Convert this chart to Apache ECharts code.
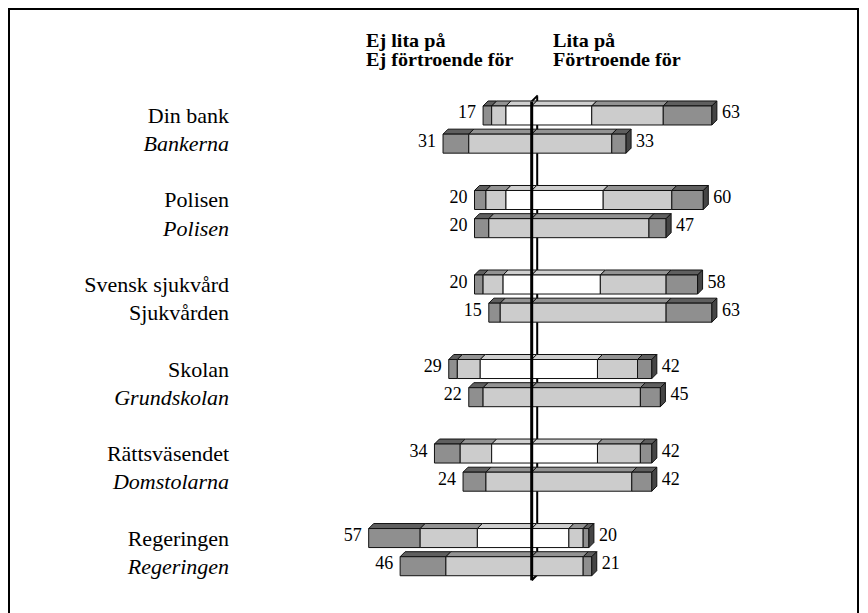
<!DOCTYPE html>
<html><head><meta charset="utf-8">
<script src="https://cdn.jsdelivr.net/npm/echarts@6/dist/echarts.min.js"></script>
<style>html,body{margin:0;padding:0;background:#fff}#c{width:868px;height:613px}</style>
</head><body><div id="c"></div>
<script>
// ---- data ----
const topLabels = ['Din bank', 'Polisen', 'Svensk sjukvård', 'Skolan', 'Rättsväsendet', 'Regeringen'];
const bottomLabels = ['Bankerna', 'Polisen', 'Sjukvården', 'Grundskolan', 'Domstolarna', 'Regeringen'];
const bottomItalic = [true, true, false, true, true, true];
// Upper bars ("Lita på"): negative side outer -> inner, positive side inner -> outer
const upNegDark  = [3, 4, 3, 3, 9, 18];
const upNegLight = [5, 7, 7, 8, 11, 20];
const upNegWhite = [9, 9, 10, 18, 14, 19];
const upPosWhite = [21, 25, 24, 23, 23, 13];
const upPosLight = [25, 24, 23, 14, 15, 5];
const upPosDark  = [17, 11, 11, 5, 4, 2];
// Lower bars ("Förtroende för")
const loNegDark  = [9, 5, 4, 5, 8, 16];
const loNegLight = [22, 15, 11, 17, 16, 30];
const loPosLight = [28, 41, 47, 38, 35, 18];
const loPosDark  = [5, 6, 16, 7, 7, 3];
const headerLeft = ['Ej lita på', 'Ej förtroende för'];
const headerRight = ['Lita på', 'Förtroende för'];

// ---- build category slots ----
const cats = [];
const catText = [];
topLabels.forEach((t, i) => {
  cats.push('u' + i); catText.push({ t: t, it: false });
  cats.push('l' + i); catText.push({ t: bottomLabels[i], it: bottomItalic[i] });
  if (i < topLabels.length - 1) { cats.push('g' + i); catText.push({ t: '', it: false }); }
});

const upperData = topLabels.map((_, i) => [i * 3, upNegDark[i], upNegLight[i], upNegWhite[i], upPosWhite[i], upPosLight[i], upPosDark[i]]);
const lowerData = topLabels.map((_, i) => [i * 3 + 1, loNegDark[i], loNegLight[i], loPosLight[i], loPosDark[i]]);

const FONT = "'Liberation Serif', serif";
const COL = {
  dark:  { front: '#8f8f8f', top: '#5f5f5f', side: '#454545' },
  light: { front: '#cccccc', top: '#939393', side: '#8a8a8a' },
  white: { front: '#ffffff', top: '#cfcfcf', side: '#aaaaaa' }
};
const D = 5;

function makeRender(negKinds, posKinds) {
  return function (params, api) {
    const cat = api.value(0);
    const nN = negKinds.length, nP = posKinds.length;
    const neg = [], pos = [];
    for (let k = 0; k < nN; k++) neg.push(api.value(1 + k));
    for (let k = 0; k < nP; k++) pos.push(api.value(1 + nN + k));
    const negSum = neg.reduce((a, b) => a + b, 0);
    const posSum = pos.reduce((a, b) => a + b, 0);
    const yc = api.coord([0, cat])[1];
    const h = api.size([0, 1])[1] * 0.675;
    const y0 = yc - h / 2, y1 = yc + h / 2;
    const segs = [];
    let x = -negSum;
    neg.forEach((v, k) => { segs.push([x, x + v, negKinds[k]]); x += v; });
    pos.forEach((v, k) => { segs.push([x, x + v, posKinds[k]]); x += v; });
    const children = [];
    segs.forEach((s, idx) => {
      const px0 = api.coord([s[0], cat])[0];
      const px1 = api.coord([s[1], cat])[0];
      const c = COL[s[2]];
      children.push({ type: 'polygon', shape: { points: [[px0, y0], [px1, y0], [px1 + D, y0 - D], [px0 + D, y0 - D]] },
        style: { fill: c.top, stroke: '#111', lineWidth: 1 } });
      children.push({ type: 'rect', shape: { x: px0, y: y0, width: px1 - px0, height: h },
        style: { fill: c.front, stroke: '#111', lineWidth: 1 } });
      if (idx === segs.length - 1) {
        children.push({ type: 'polygon', shape: { points: [[px1, y0], [px1 + D, y0 - D], [px1 + D, y1 - D], [px1, y1]] },
          style: { fill: c.side, stroke: '#111', lineWidth: 1 } });
      }
    });
    const pl = api.coord([-negSum, cat])[0];
    const pr = api.coord([posSum, cat])[0];
    children.push({ type: 'text', style: { text: String(negSum), x: pl - 7, y: yc - 3, align: 'right', verticalAlign: 'middle',
      fill: '#000', fontSize: 18, fontFamily: FONT } });
    children.push({ type: 'text', style: { text: String(posSum), x: pr + 10, y: yc - 3, align: 'left', verticalAlign: 'middle',
      fill: '#000', fontSize: 18, fontFamily: FONT } });
    return { type: 'group', children: children };
  };
}

function wallBack(params, api) {
  const n = cats.length;
  const slot = api.size([0, 1])[1];
  const x = api.coord([0, 0])[0];
  const yt = api.coord([0, 0])[1] - slot / 2;
  const yb = api.coord([0, n - 1])[1] + slot / 2;
  return { type: 'group', children: [
    { type: 'line', shape: { x1: x + D + 0.5, y1: yt - D, x2: x + D + 0.5, y2: yb - D }, style: { stroke: '#000', lineWidth: 2 } },
    { type: 'line', shape: { x1: x, y1: yt, x2: x + D + 1, y2: yt - D - 1 }, style: { stroke: '#000', lineWidth: 2 } },
    { type: 'line', shape: { x1: x, y1: yb, x2: x + D + 1, y2: yb - D - 1 }, style: { stroke: '#000', lineWidth: 2 } }
  ] };
}
function wallFront(params, api) {
  const n = cats.length;
  const slot = api.size([0, 1])[1];
  const x = api.coord([0, 0])[0];
  const yt = api.coord([0, 0])[1] - slot / 2;
  const yb = api.coord([0, n - 1])[1] + slot / 2;
  return { type: 'line', shape: { x1: x, y1: yt, x2: x, y2: yb }, style: { stroke: '#000', lineWidth: 3 } };
}

function header(txt, x, y) {
  return { type: 'text', x: x, y: y, scaleX: 1.12, originX: 0, originY: 0,
    style: { text: txt, fontFamily: FONT, fontWeight: 'bold', fontSize: 18, fill: '#000', verticalAlign: 'middle' } };
}

const chart = echarts.init(document.getElementById('c'), null, { renderer: 'svg' });
chart.setOption({
  animation: false,
  backgroundColor: '#fff',
  grid: { left: 360.1, width: 371.8, top: 101.4, height: 478.9 },
  xAxis: { type: 'value', min: -60, max: 70, show: false },
  yAxis: {
    type: 'category', data: cats, inverse: true,
    axisLine: { show: false }, axisTick: { show: false }, splitLine: { show: false },
    axisLabel: {
      margin: 131, interval: 0, align: 'right',
      formatter: function (v, i) {
        const o = catText[i];
        if (!o || !o.t) return '';
        return o.it ? '{i|' + o.t + '}' : '{n|' + o.t + '}';
      },
      rich: {
        n: { fontFamily: FONT, fontSize: 22, color: '#000' },
        i: { fontFamily: FONT, fontSize: 22, fontStyle: 'italic', color: '#000' }
      }
    }
  },
  graphic: [
    { type: 'rect', shape: { x: 9, y: 9, width: 849, height: 640 }, style: { fill: 'none', stroke: '#000', lineWidth: 2 }, silent: true },
    header(headerLeft[0], 366, 40.5),
    header(headerLeft[1], 366, 59.5),
    header(headerRight[0], 553, 40.5),
    header(headerRight[1], 553, 59.5)
  ],
  series: [
    { type: 'custom', name: 'wallBack', z: 1, data: [[0, 0]], encode: { x: 0, y: 1 }, renderItem: wallBack, silent: true },
    { type: 'custom', name: 'Lita på', z: 2, data: upperData, encode: { y: 0, x: [1, 2, 3, 4, 5, 6] },
      renderItem: makeRender(['dark', 'light', 'white'], ['white', 'light', 'dark']) },
    { type: 'custom', name: 'Förtroende för', z: 2, data: lowerData, encode: { y: 0, x: [1, 2, 3, 4] },
      renderItem: makeRender(['dark', 'light'], ['light', 'dark']) },
    { type: 'custom', name: 'wallFront', z: 3, data: [[0, 0]], encode: { x: 0, y: 1 }, renderItem: wallFront, silent: true }
  ]
});
</script>
</body></html>
